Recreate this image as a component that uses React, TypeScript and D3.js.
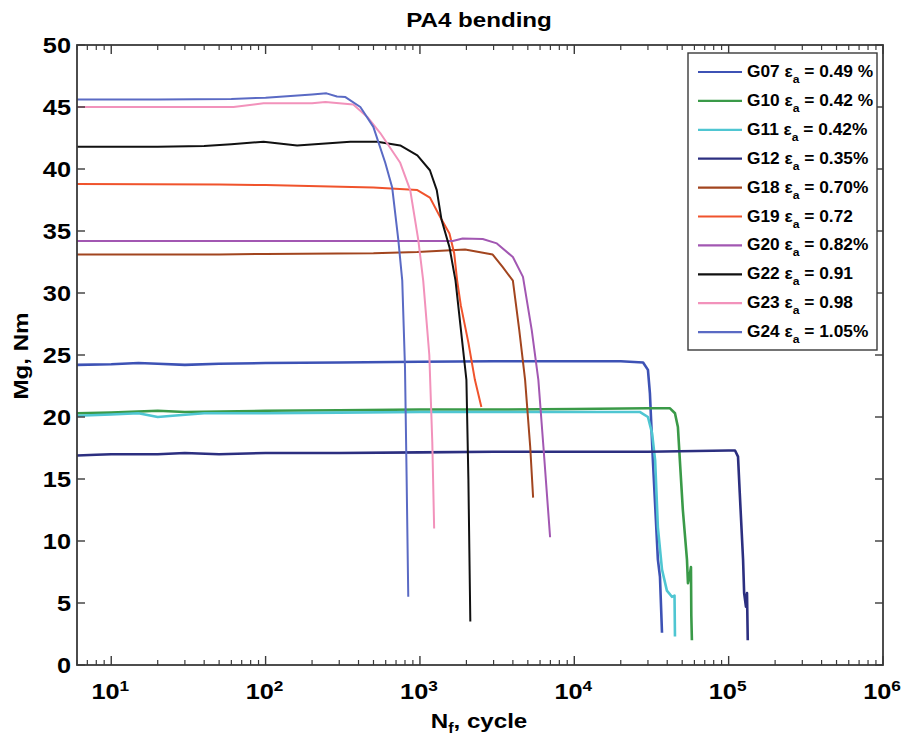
import * as d3 from "d3";

type Pt = [number, number];

// cycles N, moment Mg (Nm)
const g07: Pt[] = [[6, 24.2], [10, 24.25], [15, 24.35], [20, 24.3], [30, 24.2], [50, 24.3], [100, 24.35], [300, 24.4], [1000, 24.45], [3000, 24.5], [10000, 24.5], [20000, 24.5], [27900, 24.4], [30000, 23.8], [30900, 21.9], [32300, 16.5], [34800, 8.5], [35900, 7.1], [37000, 2.6]];
const g10: Pt[] = [[6, 20.3], [10, 20.35], [20, 20.5], [30, 20.4], [100, 20.5], [300, 20.55], [1000, 20.6], [3000, 20.6], [10000, 20.65], [30000, 20.7], [41700, 20.7], [44900, 20.3], [46900, 19.2], [48300, 16.5], [50500, 12.5], [53700, 8.5], [54500, 6.6], [56200, 7.4], [57000, 7.9], [57300, 4.0], [57800, 2.0]];
const g11: Pt[] = [[6, 20.1], [10, 20.2], [15, 20.3], [20, 20.0], [25, 20.1], [40, 20.3], [100, 20.3], [300, 20.35], [1000, 20.4], [5000, 20.4], [26700, 20.4], [30000, 20.0], [31900, 18.7], [33400, 16.5], [34800, 11.1], [37000, 7.7], [39800, 6.0], [42900, 5.5], [44600, 5.6], [44900, 2.3]];
const g12: Pt[] = [[6, 16.9], [8, 16.95], [10, 17.0], [20, 17.0], [30, 17.1], [50, 17.0], [100, 17.1], [300, 17.1], [1000, 17.15], [3000, 17.2], [10000, 17.2], [30000, 17.2], [100000, 17.3], [110000, 17.3], [115000, 16.8], [118000, 13.9], [124000, 8.5], [126000, 5.8], [129500, 4.7], [131500, 5.8], [133000, 2.0]];
const g18: Pt[] = [[6, 33.1], [50, 33.1], [100, 33.15], [500, 33.2], [962, 33.3], [1960, 33.5], [2960, 33.1], [3430, 32.1], [4000, 31.0], [4400, 27.0], [4800, 23.0], [5180, 17.6], [5410, 13.5]];
const g19: Pt[] = [[6, 38.8], [50, 38.75], [100, 38.7], [499, 38.5], [962, 38.3], [1160, 37.7], [1355, 36.1], [1553, 34.8], [1667, 33.2], [1742, 31.0], [1840, 29.0], [2060, 26.0], [2270, 23.0], [2500, 20.8]];
const g20: Pt[] = [[6, 34.2], [100, 34.2], [1000, 34.2], [1634, 34.2], [1890, 34.4], [2550, 34.35], [3150, 34.0], [4000, 32.9], [4650, 31.3], [5300, 27.0], [5850, 23.0], [6310, 17.6], [6970, 10.3]];
const g22: Pt[] = [[6, 41.8], [20, 41.8], [40, 41.85], [60, 42.0], [97, 42.2], [160, 41.9], [354, 42.2], [529, 42.2], [745, 41.9], [962, 41.1], [1160, 39.9], [1285, 38.3], [1380, 35.9], [1553, 33.7], [1700, 31.0], [2000, 23.0], [2060, 15.0], [2120, 3.5]];
const g23: Pt[] = [[6, 45.0], [30, 45.0], [62, 45.0], [97, 45.3], [150, 45.3], [200, 45.3], [244, 45.4], [300, 45.3], [370, 45.2], [456, 44.2], [553, 42.9], [745, 40.5], [865, 38.3], [975, 34.3], [1050, 31.0], [1150, 25.0], [1202, 18.0], [1236, 11.0]];
const g24: Pt[] = [[6, 45.6], [20, 45.6], [60, 45.65], [100, 45.75], [200, 46.0], [248, 46.1], [290, 45.85], [329, 45.8], [411, 45.0], [499, 43.4], [596, 40.5], [661, 38.5], [724, 34.3], [768, 31.0], [800, 24.0], [820, 15.0], [840, 5.5]];

const specimens = ["G07", "G10", "G11", "G12", "G18", "G19", "G20", "G22", "G23", "G24"];
const strains = ["0.49 %", "0.42 %", "0.42%", "0.35%", "0.70%", "0.72", "0.82%", "0.91", "0.98", "1.05%"];
const seriesData = [g07, g10, g11, g12, g18, g19, g20, g22, g23, g24];
const yTicks = [0, 5, 10, 15, 20, 25, 30, 35, 40, 45, 50];
const xDecades = [1, 2, 3, 4, 5, 6];

const colors = ["#3d52b5", "#3a9a48", "#4fc6d2", "#2c2f80", "#a2451f", "#f0532c", "#a257b2", "#111111", "#f292bb", "#5a6ac4"];
const noisy = [true, true, true, true, false, false, false, false, false, false];

const W = 901;
const H = 738;
const L = 77, T = 45, R = 883, B = 665;
const SX = 1.15;
const AX = "#3a3a3a";
const FONT = "'Liberation Sans', Arial, Helvetica, sans-serif";

const x = d3.scaleLog().domain([6, 1e6]).range([L, R]);
const y = d3.scaleLinear().domain([0, 50]).range([B, T]);
const line = d3.line<Pt>().x((d) => x(d[0])).y((d) => y(d[1]));

const minorX: number[] = [];
for (let d = 0; d < 6; d++) {
  for (let k = 2; k <= 9; k++) {
    const v = k * Math.pow(10, d);
    if (v >= 6 && v < 1e6) minorX.push(v);
  }
}

const App = () => {
  const legX = 688, legY = 53, legW = 189, legH = 297;
  const rowH = 28.9;
  return (
    <svg width={W} height={H} style={{ position: "absolute", left: 0, top: 0, background: "#fff" }} fontFamily={FONT}>
      <defs>
        <clipPath id="plot">
          <rect x={L} y={T} width={R - L} height={B - T} />
        </clipPath>
      </defs>

      {/* title */}
      <text transform={`translate(479,27) scale(${SX},1)`} textAnchor="middle" fontSize={21} fontWeight="bold">PA4 bending</text>

      {/* curves */}
      <g clipPath="url(#plot)" fill="none" strokeLinejoin="round">
        {seriesData.map((s, i) => (
          <path key={specimens[i]} d={line(s) || ""} stroke={colors[i]} strokeWidth={noisy[i] ? 2.6 : 2} />
        ))}
      </g>

      {/* axes box */}
      <rect x={L} y={T} width={R - L} height={B - T} fill="none" stroke={AX} strokeWidth={1.8} />

      {/* x ticks, bottom and top */}
      {xDecades.map((d) => {
        const px = x(Math.pow(10, d));
        return (
          <g key={"xm" + d} stroke={AX} strokeWidth={1.4}>
            <line x1={px} x2={px} y1={B} y2={B - 9} />
            <line x1={px} x2={px} y1={T} y2={T + 9} />
          </g>
        );
      })}
      {minorX.map((v) => (
        <g key={"xn" + v} stroke={AX} strokeWidth={1.2}>
          <line x1={x(v)} x2={x(v)} y1={B} y2={B - 5} />
          <line x1={x(v)} x2={x(v)} y1={T} y2={T + 5} />
        </g>
      ))}
      {xDecades.map((d) => (
        <text key={"xl" + d} transform={`translate(${x(Math.pow(10, d)) - 1},699) scale(${SX},1)`} textAnchor="middle" fontSize={22} fontWeight="bold">
          <tspan>10</tspan>
          <tspan dy={-8} fontSize={15}>{d}</tspan>
        </text>
      ))}

      {/* y ticks, left and right */}
      {yTicks.map((t) => (
        <g key={"y" + t}>
          <line x1={L} x2={L + 8} y1={y(t)} y2={y(t)} stroke={AX} strokeWidth={1.4} />
          <line x1={R} x2={R - 8} y1={y(t)} y2={y(t)} stroke={AX} strokeWidth={1.4} />
          <text transform={`translate(71,${y(t) + 8}) scale(${SX},1)`} textAnchor="end" fontSize={22} fontWeight="bold">{t}</text>
        </g>
      ))}

      {/* axis labels */}
      <text transform={`translate(479,728) scale(${SX},1)`} textAnchor="middle" fontSize={21} fontWeight="bold">
        <tspan>N</tspan>
        <tspan dy={5} fontSize={14}>f</tspan>
        <tspan dy={-5}>, cycle</tspan>
      </text>
      <text transform={`translate(28,356) rotate(-90) scale(${SX},1)`} textAnchor="middle" fontSize={21} fontWeight="bold">Mg, Nm</text>

      {/* legend */}
      <rect x={legX} y={legY} width={legW} height={legH} fill="#fff" stroke={AX} strokeWidth={1.4} />
      {specimens.map((name, i) => {
        const ry = 72 + i * rowH;
        return (
          <g key={"lg" + name}>
            <line x1={698} x2={742} y1={ry} y2={ry} stroke={colors[i]} strokeWidth={2.2} />
            <text transform={`translate(747,${ry + 5}) scale(1.05,1)`} fontSize={16.5} fontWeight="bold">
              <tspan>{name} ε</tspan>
              <tspan dy={6} fontSize={11.5}>a</tspan>
              <tspan dy={-6}> = {strains[i]}</tspan>
            </text>
          </g>
        );
      })}
    </svg>
  );
};

export default App;
